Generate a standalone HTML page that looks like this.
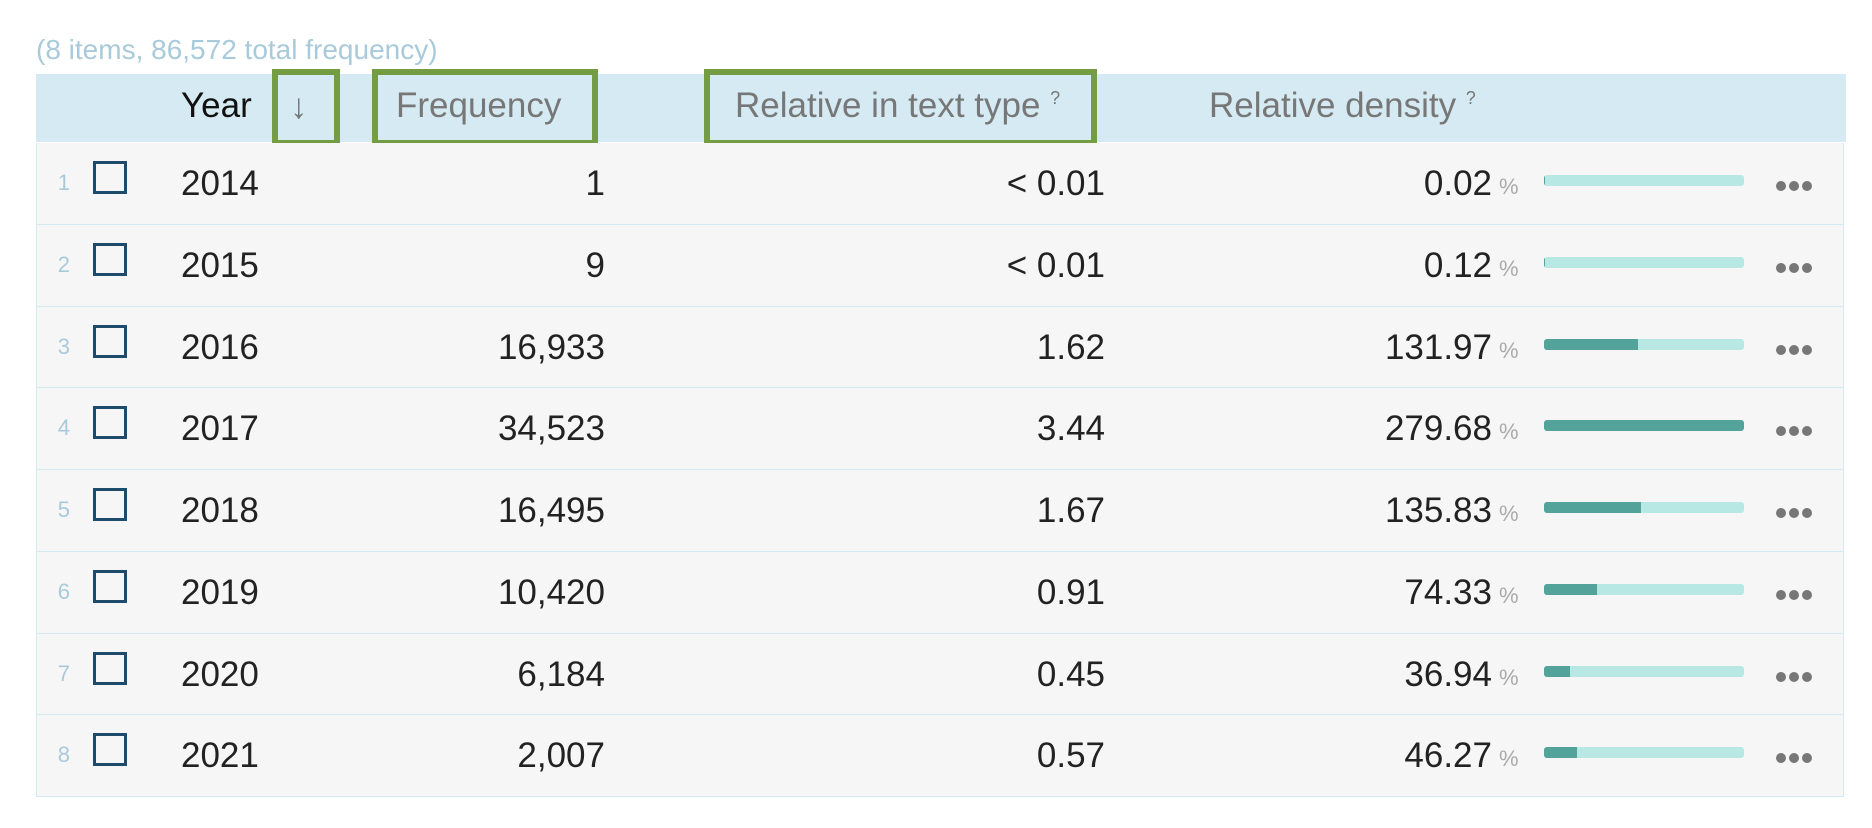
<!DOCTYPE html>
<html><head><meta charset="utf-8"><style>
body{margin:0;width:1872px;height:828px;background:#fff;font-family:"Liberation Sans",Arial,sans-serif;position:relative;overflow:hidden}
.a{position:absolute;white-space:nowrap}
.cap{left:36px;top:34px;font-size:28px;color:#a9cadb}
.hdr{left:36px;top:74px;width:1810px;height:68px;background:#d5eaf3}
.ht{font-size:35px;color:#777;line-height:40px}
.box{border:6px solid #739c43;box-sizing:border-box}
.row{left:36px;width:1808px;background:#f6f6f6;border:1px solid #d5e9f3;border-top:none;box-sizing:border-box}
.num{font-size:22px;color:#a9cadb;text-align:right;width:30px}
.cb{width:34px;height:33px;border:3px solid #1e4a6b;box-sizing:border-box}
.v{font-size:35px;color:#222;line-height:40px}
.pct{font-size:22px;color:#aaa}
.bar{left:1544px;width:200px;height:11px;background:#b8e8e3;border-radius:3px;overflow:hidden}
.fill{height:11px;background:#53a39a}
.dot{width:10px;height:10px;border-radius:50%;background:#777}
sup{font-size:18px;vertical-align:top;line-height:0;position:relative;top:12px}
</style></head><body>
<div class="a cap">(8 items, 86,572 total frequency)</div>
<div class="a hdr"></div>
<div class="a ht" style="left:181px;top:86px;color:#111">Year</div>
<div class="a box" style="left:272px;top:69px;width:68px;height:77px"><span class="a ht" style="left:12px;top:12px">↓</span></div>
<div class="a box" style="left:372px;top:69px;width:226px;height:77px"><span class="a ht" style="left:18px;top:11px">Frequency</span></div>
<div class="a box" style="left:704px;top:69px;width:393px;height:77px"><span class="a ht" style="left:25px;top:11px">Relative in text type <sup>?</sup></span></div>
<div class="a ht" style="left:1209px;top:86px">Relative density <sup>?</sup></div>
<div id="rows"></div>
<script>
const years=["2014","2015","2016","2017","2018","2019","2020","2021"];
const freqs=["1","9","16,933","34,523","16,495","10,420","6,184","2,007"];
const relText=["< 0.01","< 0.01","1.62","3.44","1.67","0.91","0.45","0.57"];
const density=[0.02,0.12,131.97,279.68,135.83,74.33,36.94,46.27];
const maxD=Math.max(...density);
const root=document.getElementById('rows');
const top0=143,rh=81.75;
function mk(cls,style,html,parent){const d=document.createElement('div');d.className='a '+cls;d.style.cssText=style;if(html!=null)d.textContent=html;(parent||root).appendChild(d);return d;}
years.forEach((y,i)=>{
  const t=Math.round(top0+i*rh), b=Math.round(top0+(i+1)*rh);
  const r=mk('row',`top:${t}px;height:${b-t}px`);
  
  
  const c=t+38;
  const n=mk('num',`left:40px;top:${c-11}px`,String(i+1));
  
  
  const cb=mk('cb',`left:93px;top:${c-20}px`);
  
  
  const yr=mk('v',`left:181px;top:${c-17}px`,y);
  
  
  const f=mk('v',`right:${1872-605}px;top:${c-17}px`,freqs[i]);
  
  
  const rt=mk('v',`right:${1872-1105}px;top:${c-17}px`,relText[i]);
  
  
  const dv=mk('v',`right:${1872-1492}px;top:${c-17}px`,density[i].toFixed(2));
  
  
  const p=mk('pct',`left:1499px;top:${c-7}px`,'%');
  
  
  const bar=mk('bar',`top:${c-6}px`);
  
  
  const fl=document.createElement('div');fl.className='fill';
  fl.style.width=Math.max(1,density[i]/maxD*200)+'px';
  
  
  bar.appendChild(fl);
  const m=mk('',`left:1776px;top:${c}px;width:38px;height:10px`);
  
  
  for(let k=0;k<3;k++){const d=mk('dot',`left:${k*13}px;top:0`,null,m);
    
    }
});
</script>
</body></html>
